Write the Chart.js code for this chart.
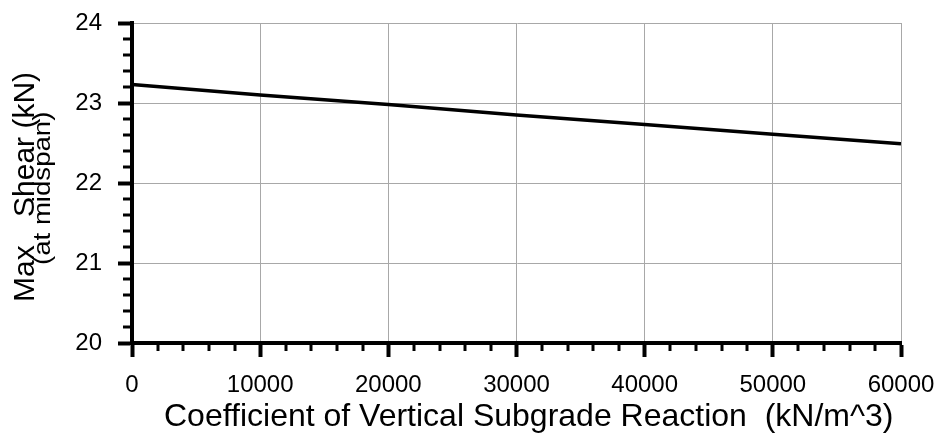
<!DOCTYPE html>
<html>
<head>
<meta charset="utf-8">
<script src="https://cdn.jsdelivr.net/npm/chart.js@4/dist/chart.umd.min.js"></script>
<style>
  html, body { margin: 0; padding: 0; background: #fff; }
  #wrap { width: 939px; height: 434px; }
</style>
</head>
<body>
<div id="wrap"><canvas id="shear"></canvas></div>
<script>
// subgrade modulus (kN/m^3) vs. max shear at midspan (kN)
const subgrade_k = [0, 10000, 20000, 30000, 40000, 50000, 60000];
const max_shear = [23.23, 23.10, 22.98, 22.85, 22.73, 22.61, 22.49];

const x_ticks = [0, 10000, 20000, 30000, 40000, 50000, 60000];
const y_ticks = [20, 21, 22, 23, 24];
const x_minor_step = 2000;
const y_minor_step = 0.2;

const FONT = "'Liberation Sans', Arial, sans-serif";

// minor ticks + the axis titles (the y one has a subscript, so it is drawn by hand)
const axisExtras = {
  id: "axisExtras",
  afterDraw(chart) {
    const ctx = chart.ctx;
    const xs = chart.scales.x;
    const ys = chart.scales.y;
    const area = chart.chartArea;

    ctx.save();
    ctx.strokeStyle = "#000";
    ctx.lineWidth = 3;
    for (let v = xs.min; v <= xs.max; v += x_minor_step) {
      if (v % 10000 === 0) continue;
      const px = Math.round(xs.getPixelForValue(v));
      ctx.beginPath();
      ctx.moveTo(px, area.bottom);
      ctx.lineTo(px, area.bottom + 8);
      ctx.stroke();
    }
    for (let i = 1; i < (ys.max - ys.min) / y_minor_step; i++) {
      if (i % 5 === 0) continue;
      const py = Math.round(ys.getPixelForValue(ys.min + i * y_minor_step));
      ctx.beginPath();
      ctx.moveTo(area.left - 9, py);
      ctx.lineTo(area.left, py);
      ctx.stroke();
    }

    ctx.fillStyle = "#000";
    ctx.textBaseline = "alphabetic";

    // x title
    ctx.font = "32px " + FONT;
    ctx.textAlign = "left";
    ctx.fillText("Coefficient of Vertical Subgrade Reaction  (kN/m^3)", 164, 426);

    // y title, rotated
    ctx.translate(34, 302);
    ctx.rotate(-Math.PI / 2);
    ctx.font = "30px " + FONT;
    ctx.fillText("Max", 0, 0);
    ctx.fillText("Shear (kN)", 85, 0);
    ctx.save();
    ctx.translate(37, 16);
    ctx.scale(1.2, 1);
    ctx.font = "23px " + FONT;
    ctx.fillText("(at midspan)", 0, 0);
    ctx.restore();
    ctx.restore();
  }
};

// fixed axis boxes so the plot area lands where it should
const noPad = (s) => {
  s.paddingTop = 0;
  s.paddingBottom = 0;
  s.paddingLeft = 0;
  s.paddingRight = 0;
};

new Chart(document.getElementById("shear"), {
  type: "line",
  data: {
    datasets: [{
      data: subgrade_k.map((k, i) => ({ x: k, y: max_shear[i] })),
      borderColor: "#000",
      borderWidth: 3.5,
      pointRadius: 0,
      tension: 0,
      fill: false
    }]
  },
  plugins: [axisExtras],
  options: {
    responsive: true,
    maintainAspectRatio: false,
    animation: false,
    layout: { padding: { top: 23, right: 38, left: 0, bottom: 0 } },
    plugins: {
      legend: { display: false },
      tooltip: { enabled: false }
    },
    scales: {
      x: {
        type: "linear",
        min: x_ticks[0],
        max: x_ticks[x_ticks.length - 1],
        afterBuildTicks: (s) => { s.ticks = x_ticks.map(v => ({ value: v })); },
        afterFit: (s) => { s.height = 91; noPad(s); },
        grid: { color: "#a8a8a8", lineWidth: 1, tickColor: "#000", tickLength: 14, tickWidth: 4 },
        border: { color: "#000", width: 4 },
        ticks: {
          color: "#000",
          font: { family: FONT, size: 24 },
          padding: 14,
          maxRotation: 0,
          callback: (v) => String(v)
        }
      },
      y: {
        type: "linear",
        min: y_ticks[0],
        max: y_ticks[y_ticks.length - 1],
        afterBuildTicks: (s) => { s.ticks = y_ticks.map(v => ({ value: v })); },
        afterFit: (s) => { s.width = 132; noPad(s); },
        grid: { color: "#a8a8a8", lineWidth: 1, tickColor: "#000", tickLength: 14, tickWidth: 4 },
        border: { color: "#000", width: 4 },
        ticks: {
          color: "#000",
          font: { family: FONT, size: 24 },
          padding: 16,
          callback: (v) => String(v)
        }
      }
    }
  }
});
</script>
</body>
</html>
